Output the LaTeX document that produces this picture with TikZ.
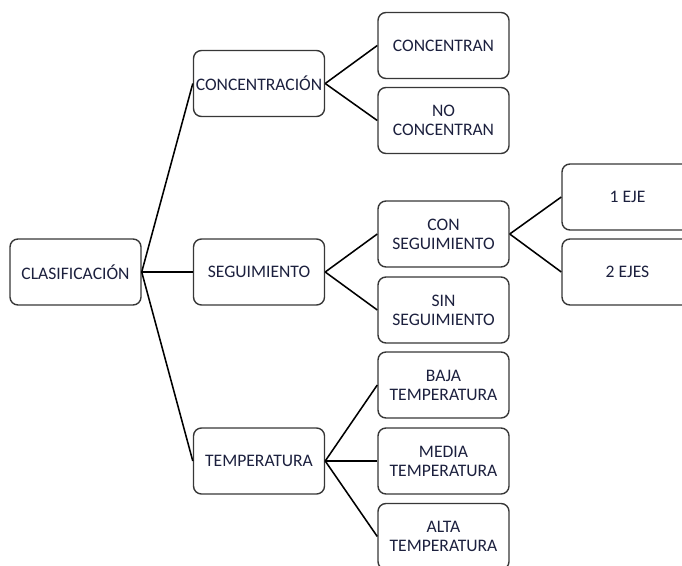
\documentclass[tikz,border=0pt]{standalone}
\usepackage{fontspec}
\setmainfont{Carlito}
\usetikzlibrary{positioning}
\definecolor{ink}{RGB}{28,32,62}
\definecolor{edge}{RGB}{55,55,55}

\tikzset{
  catbox/.style={draw=edge,line width=1pt,rounded corners=0.2cm,fill=white,
    minimum width=3.275cm,minimum height=1.65cm,align=center,
    text=ink,font=\fontsize{12.5}{13.5}\selectfont,inner sep=1pt},
  branch/.style={black,line width=1.1pt}
}

\begin{document}
\begin{tikzpicture}[x=0.025cm,y=-0.025cm]
    \useasboundingbox (0,0) rectangle (682,565);
    \clip (0,0) rectangle (682,565);
    % root
    \node[catbox] (clas) at (75.5,272){CLASIFICACIÓN};
    % first level
    \node[catbox] (conc) at (259,83.5){CONCENTRACIÓN};
    \node[catbox] (segu) at (259,272){SEGUIMIENTO};
    \node[catbox] (temp) at (259,461){TEMPERATURA};
    % second level
    \node[catbox] (sic) at (443.5,45.5){CONCENTRAN};
    \node[catbox] (noc) at (443.5,120.5){NO\\CONCENTRAN};
    \node[catbox] (cons) at (443.5,234){CON\\SEGUIMIENTO};
    \node[catbox] (sins) at (443.5,310){SIN\\SEGUIMIENTO};
    \node[catbox] (baja) at (443.5,385){BAJA\\TEMPERATURA};
    \node[catbox] (media) at (443.5,461){MEDIA\\TEMPERATURA};
    \node[catbox] (alta) at (443.5,536.5){ALTA\\TEMPERATURA};
    % axes
    \node[catbox] (eje1) at (627.5,197){1 EJE};
    \node[catbox] (eje2) at (627.5,272){2 EJES};
    % branches
    \foreach \a/\b in {clas/conc,clas/segu,clas/temp,conc/sic,conc/noc,
                       segu/cons,segu/sins,temp/baja,temp/media,temp/alta,
                       cons/eje1,cons/eje2}
      \draw[branch] (\a.east) -- (\b.west);
  \end{tikzpicture}
\end{document}
